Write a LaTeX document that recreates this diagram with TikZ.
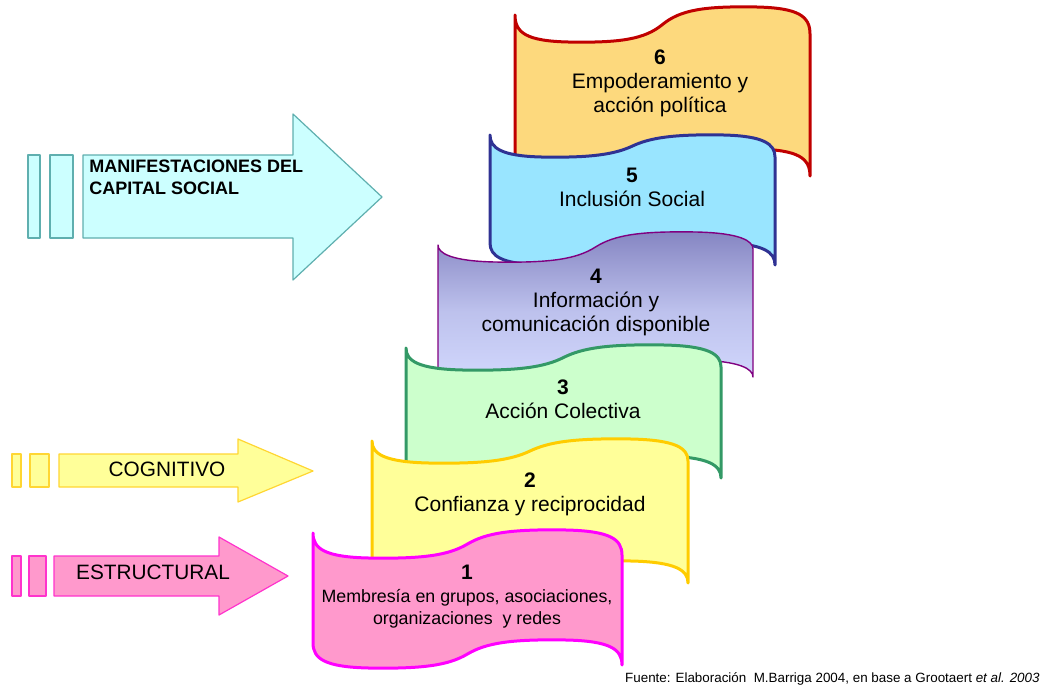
\documentclass[tikz,border=0pt]{standalone}
\usepackage{fontspec}
\setmainfont{Liberation Sans}
\definecolor{b6fill}{HTML}{FDD97D}
\definecolor{b6line}{HTML}{C00000}
\definecolor{b5fill}{HTML}{99E5FF}
\definecolor{b5line}{HTML}{2F3293}
\definecolor{b4top}{HTML}{8585C2}
\definecolor{b4bot}{HTML}{D5DBFF}
\definecolor{b4line}{HTML}{800080}
\definecolor{b3fill}{HTML}{CCFFCC}
\definecolor{b3line}{HTML}{339966}
\definecolor{b2fill}{HTML}{FFFF99}
\definecolor{b2line}{HTML}{FFCC00}
\definecolor{b1fill}{HTML}{FF99CC}
\definecolor{b1line}{HTML}{FF00FF}
\definecolor{cyfill}{HTML}{CCFFFF}
\definecolor{cyline}{HTML}{5FAFAF}
\definecolor{yeline}{HTML}{FFD633}
\definecolor{pkline}{HTML}{FF33CC}
% #1 L, #2 T, #3 W, #4 H, #5 m (half right drop), #6 A (amplitude), #7 style
\newcommand{\wavebanner}[7]{%
\path[#7] (#1,#2)
 .. controls (#1,{#2+#5+#6-9}) and ({#1+0.04*#3},{#2+#5+#6-1}) .. ({#1+0.18*#3},{#2+#5+#6})
 .. controls ({#1+0.36*#3},{#2+#5+#6+1}) and ({#1+0.44*#3},{#2+#5+#6-3}) .. ({#1+0.5*#3},{#2+#5})
 .. controls ({#1+0.56*#3},{#2+#5-#6+3}) and ({#1+0.64*#3},{#2+#5-#6-1}) .. ({#1+0.82*#3},{#2+#5-#6})
 .. controls ({#1+0.96*#3},{#2+#5-#6+1}) and ({#1+#3},{#2+#5-#6+9}) .. ({#1+#3},{#2+2*#5})
 -- ({#1+#3},{#2+#4+2*#5})
 .. controls ({#1+#3},{#2+#4+#5-#6+9}) and ({#1+0.96*#3},{#2+#4+#5-#6+1}) .. ({#1+0.82*#3},{#2+#4+#5-#6})
 .. controls ({#1+0.64*#3},{#2+#4+#5-#6-1}) and ({#1+0.56*#3},{#2+#4+#5-#6+3}) .. ({#1+0.5*#3},{#2+#4+#5})
 .. controls ({#1+0.44*#3},{#2+#4+#5+#6-3}) and ({#1+0.36*#3},{#2+#4+#5+#6+1}) .. ({#1+0.18*#3},{#2+#4+#5+#6})
 .. controls ({#1+0.04*#3},{#2+#4+#5+#6-1}) and (#1,{#2+#4+#5+#6-9}) .. (#1,{#2+#4})
 -- cycle;}
\begin{document}
\begin{tikzpicture}[x=0.5pt,y=-0.5pt,line join=round,
  bantext/.style={align=center,inner sep=0pt,font=\fontsize{10.5}{12}\selectfont},
  smalltext/.style={align=center,inner sep=0pt,font=\fontsize{8.9}{11.3}\selectfont},
  arrtext/.style={inner sep=0pt,font=\fontsize{10.4}{12}\selectfont},
  thick banner/.style={line width=1.5pt},
  arrowbox/.style={line width=0.6pt}]
\useasboundingbox (0,0) rectangle (1043,685);

% ---------- banners (top to bottom, lower ones drawn over upper ones)
\wavebanner{515}{15}{295}{142}{9.5}{17.5}{draw=b6line,fill=b6fill,thick banner}
\wavebanner{490}{135}{285}{108}{11}{11}{draw=b5line,fill=b5fill,thick banner}
\wavebanner{438}{245}{315}{128}{2}{15}{draw=b4line,top color=b4top,bottom color=b4bot,middle color=b4bot!70!b4top,line width=0.7pt}
\wavebanner{406}{348}{315}{111}{9.5}{12.5}{draw=b3line,fill=b3fill,thick banner}
\wavebanner{372}{441}{316}{122}{10}{12}{draw=b2line,fill=b2fill,thick banner}
\wavebanner{313}{533}{309}{110}{11}{14}{draw=b1line,fill=b1fill,thick banner}

\node[bantext] (t6) at (660,83) {\textbf{6}\\Empoderamiento y\\acción política};
\node[bantext] (t5) at (632,187) {\textbf{5}\\Inclusión Social};
\node[bantext] (t4) at (596,302) {\textbf{4}\\Información y\\comunicación disponible};
\node[bantext] (t3) at (563,399) {\textbf{3}\\Acción Colectiva};
\node[bantext] (t2) at (530,494) {\textbf{2}\\Confianza y reciprocidad};
\node[smalltext] (t1) at (467,597) {{\fontsize{10.5}{12}\selectfont\textbf{1}}\\Membresía en grupos, asociaciones,\\organizaciones~ y redes};

% ---------- left arrows
% Manifestaciones
\path[arrowbox,draw=cyline,fill=cyfill] (28,155) rectangle (40,238);
\path[arrowbox,draw=cyline,fill=cyfill] (50,155) rectangle (73,238);
\path[arrowbox,draw=cyline,fill=cyfill] (83,155) -- (293,155) -- (293,114) -- (382,197) -- (293,280) -- (293,238) -- (83,238) -- cycle;
\node[anchor=north west,align=left,inner sep=0pt,font=\fontsize{9}{11}\selectfont\bfseries] (tm) at (89,160) {MANIFESTACIONES DEL\\CAPITAL SOCIAL};

% Cognitivo
\path[arrowbox,draw=yeline,fill=b2fill] (12,454) rectangle (21,487);
\path[arrowbox,draw=yeline,fill=b2fill] (30,454) rectangle (49,487);
\path[arrowbox,draw=yeline,fill=b2fill] (59,454) -- (238,454) -- (238,439) -- (313,471) -- (238,502) -- (238,487) -- (59,487) -- cycle;
\node[arrtext] (tc) at (167,469) {COGNITIVO};

% Estructural
\path[arrowbox,draw=pkline,fill=b1fill] (12,556) rectangle (21,596);
\path[arrowbox,draw=pkline,fill=b1fill] (29,556) rectangle (46,596);
\path[arrowbox,draw=pkline,fill=b1fill] (54,556) -- (219,556) -- (219,537) -- (288,576) -- (219,615) -- (219,596) -- (54,596) -- cycle;
\node[arrtext] (te) at (153,572) {ESTRUCTURAL};

% ---------- source
\node[anchor=base east,inner sep=0pt,font=\fontsize{6.7}{8}\selectfont] (src) at (1040,682)
  {Fuente: Elaboración~ M.Barriga 2004, en base a Grootaert \textit{et al. 2003}};
\end{tikzpicture}
\end{document}
